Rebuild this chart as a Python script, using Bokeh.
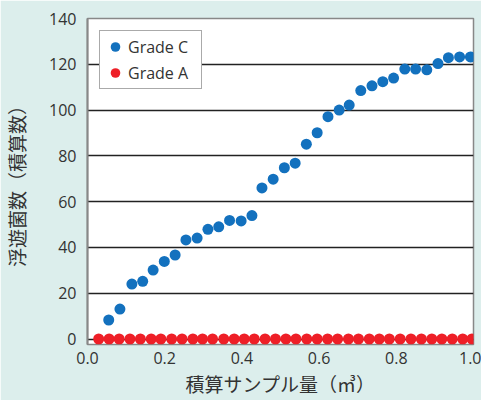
from bokeh.plotting import figure
from bokeh.models import Range1d, FixedTicker, PrintfTickFormatter, Legend, LegendItem
from bokeh.embed import file_html
from bokeh.resources import INLINE

# ---- data ----
x_label = "積算サンプル量（㎥）"
y_label = "浮遊菌数（積算数）"
x_ticks = [0.0, 0.2, 0.4, 0.6, 0.8, 1.0]
y_ticks = [0, 20, 40, 60, 80, 100, 120, 140]

grade_c_x = [0.055, 0.084, 0.115, 0.143, 0.170, 0.199, 0.227, 0.255, 0.284, 0.312,
             0.340, 0.368, 0.398, 0.426, 0.452, 0.481, 0.510, 0.538, 0.567, 0.595,
             0.623, 0.652, 0.678, 0.708, 0.737, 0.765, 0.793, 0.822, 0.850, 0.879,
             0.908, 0.935, 0.964, 0.992]
grade_c_y = [8.3, 13.1, 24.0, 25.2, 30.1, 33.9, 36.7, 43.3, 44.1, 47.9,
             49.0, 51.8, 51.6, 53.9, 66.0, 69.8, 74.8, 76.8, 85.1, 90.1,
             97.1, 100.0, 102.2, 108.5, 110.6, 112.4, 114.0, 117.9, 117.9, 117.6,
             120.3, 122.9, 123.2, 123.2]

grade_a_x = [0.029, 0.056, 0.082, 0.110, 0.137, 0.165, 0.190, 0.218, 0.245, 0.273,
             0.298, 0.324, 0.353, 0.380, 0.406, 0.432, 0.460, 0.487, 0.514, 0.540,
             0.568, 0.595, 0.622, 0.648, 0.676, 0.702, 0.730, 0.756, 0.782, 0.810,
             0.838, 0.865, 0.892, 0.918, 0.945, 0.972, 0.996]
grade_a_y = [0, 0, 0, 0, 0, 0, 0, 0, 0, 0,
             0, 0, 0, 0, 0, 0, 0, 0, 0, 0,
             0, 0, 0, 0, 0, 0, 0, 0, 0, 0,
             0, 0, 0, 0, 0, 0, 0]

BG = "#DCEEEC"
BLUE = "#1371BE"
RED = "#EE1F27"
TXT = "#333333"
LATIN = "Open Sans"
CJK = "Noto Sans CJK JP"

p = figure(width=481, height=400, output_backend="svg", toolbar_location=None,
           x_range=Range1d(0, 1.0), y_range=Range1d(-2.4, 140),
           min_border_left=86, min_border_right=8, min_border_top=18,
           min_border_bottom=56)

p.background_fill_color = "white"
p.border_fill_color = BG
p.outline_line_color = "#888888"
p.outline_line_width = 1.5

# grid
p.xgrid.grid_line_color = None
p.ygrid.ticker = FixedTicker(ticks=y_ticks)
p.ygrid.grid_line_color = "#222222"
p.ygrid.grid_line_width = 1.3

# axes
p.xaxis.ticker = FixedTicker(ticks=x_ticks)
p.xaxis.formatter = PrintfTickFormatter(format="%.1f")
p.yaxis.ticker = FixedTicker(ticks=y_ticks)
for ax in (p.xaxis, p.yaxis):
    ax.major_tick_in = 0
    ax.major_tick_out = 0
    ax.minor_tick_in = 0
    ax.minor_tick_out = 0
    ax.major_label_text_font = LATIN
    ax.major_label_text_font_size = "16px"
    ax.major_label_text_color = TXT
    ax.axis_label_text_font = CJK
    ax.axis_label_text_font_size = "19px"
    ax.axis_label_text_font_style = "normal"
    ax.axis_label_text_color = TXT
p.xaxis.axis_line_color = None
p.yaxis.axis_line_color = "#888888"
p.yaxis.axis_line_width = 2
p.xaxis.major_label_standoff = 7
p.yaxis.major_label_standoff = 11
p.xaxis.axis_label = x_label
p.yaxis.axis_label = y_label
p.xaxis.axis_label_standoff = 3
p.yaxis.axis_label_standoff = 16

r_a = p.scatter(grade_a_x, grade_a_y, size=11, fill_color=RED, line_color=None)
r_c = p.scatter(grade_c_x, grade_c_y, size=11, fill_color=BLUE, line_color=None)

legend = Legend(items=[LegendItem(label="Grade C", renderers=[r_c]),
                       LegendItem(label="Grade A", renderers=[r_a])],
                location="top_left", margin=12, padding=3,
                glyph_width=24, glyph_height=25, label_standoff=1,
                spacing=1, label_height=20, label_width=70,
                label_text_font=LATIN, label_text_font_size="16px",
                label_text_color=TXT,
                border_line_color="#555555", border_line_width=1,
                background_fill_color="white", background_fill_alpha=1)
p.add_layout(legend)

open("out.html", "w").write(file_html(p, INLINE))
